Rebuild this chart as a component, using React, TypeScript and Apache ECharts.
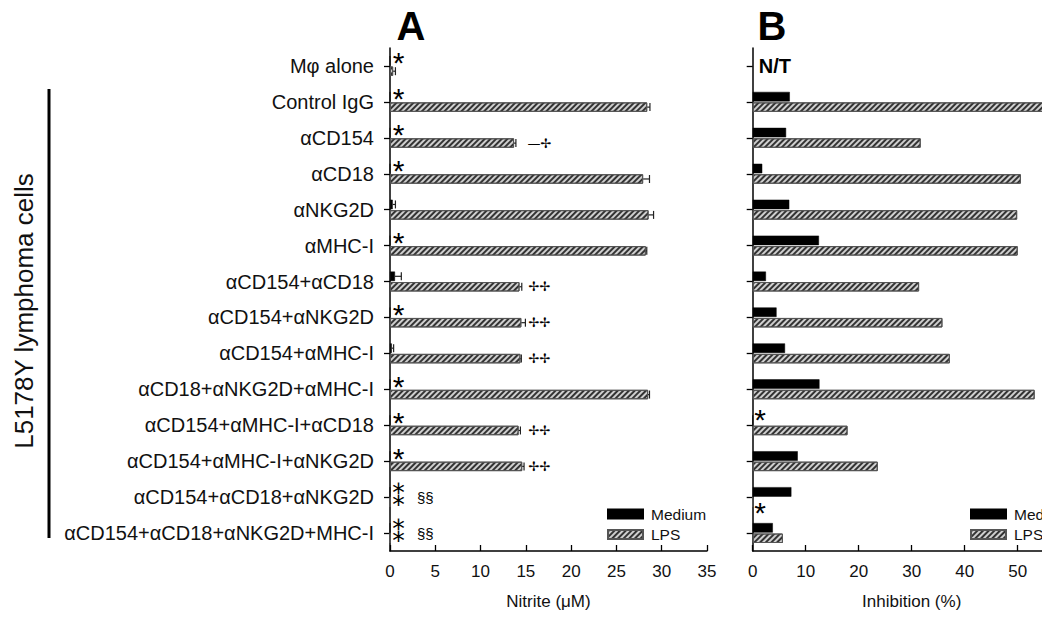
import React, { useEffect, useRef } from "react";
import * as echarts from "echarts";

const categories = [
  "Mφ alone",
  "Control IgG",
  "αCD154",
  "αCD18",
  "αNKG2D",
  "αMHC-I",
  "αCD154+αCD18",
  "αCD154+αNKG2D",
  "αCD154+αMHC-I",
  "αCD18+αNKG2D+αMHC-I",
  "αCD154+αMHC-I+αCD18",
  "αCD154+αMHC-I+αNKG2D",
  "αCD154+αCD18+αNKG2D",
  "αCD154+αCD18+αNKG2D+MHC-I",
];

// Panel A: nitrite (µM)
const nitriteMedium = [0, 0, 0, 0, 0.3, 0, 0.55, 0, 0.2, 0, 0, 0, 0, 0];
const nitriteMediumErr = [0, 0, 0, 0, 0.3, 0, 0.7, 0, 0.2, 0, 0, 0, 0, 0];
const nitriteLPS = [0.35, 28.4, 13.7, 27.95, 28.55, 28.25, 14.3, 14.5, 14.4, 28.5, 14.2, 14.6, 0, 0];
const nitriteLPSErr = [0.25, 0.3, 0.2, 0.7, 0.55, 0.1, 0.25, 0.45, 0.1, 0.15, 0.2, 0.2, 0, 0];

// Panel B: inhibition (%)
const inhibMedium = [null, 7.0, 6.3, 1.8, 6.9, 12.5, 2.5, 4.5, 6.1, 12.6, 0, 8.5, 7.3, 3.8];
const inhibLPS = [null, 55.5, 31.7, 50.6, 49.9, 50.0, 31.4, 35.8, 37.2, 53.2, 17.9, 23.6, 0, 5.7];

// Annotations
const starMediumA = [1, 1, 1, 1, 0, 1, 0, 1, 0, 1, 1, 1, 1, 1];
const starLPSA = [0, 0, 0, 0, 0, 0, 0, 0, 0, 0, 0, 0, 1, 1];
const daggerA = ["", "", "—✢", "", "", "", "✢✢", "✢✢", "✢✢", "", "✢✢", "✢✢", "", ""];
const sectionA = ["", "", "", "", "", "", "", "", "", "", "", "", "§§", "§§"];
const starMediumB = [0, 0, 0, 0, 0, 0, 0, 0, 0, 0, 1, 0, 0, 0];
const starLPSB = [0, 0, 0, 0, 0, 0, 0, 0, 0, 0, 0, 0, 1, 0];
const notTestedB = ["N/T", "", "", "", "", "", "", "", "", "", "", "", "", ""];

const xTicksA = { min: 0, max: 35, interval: 5 };
const xTicksB = { min: 0, max: 60, interval: 10 };

const FONT = "'Liberation Sans', Arial, Helvetica, sans-serif";
const BAR_W = 9.5;
const BAR_GAP = 0.1;
const HALF = (BAR_W * (1 + BAR_GAP)) / 2;

type Marker = { x: number; c: number; dy: number; text: string; kind: string };

function buildMarkersA(): Marker[] {
  const m: Marker[] = [];
  categories.forEach((_, i) => {
    if (starMediumA[i] && starLPSA[i]) m.push({ x: 0.95, c: i, dy: 0, text: "⁑", kind: "star2" });
    else if (starMediumA[i]) m.push({ x: 0.95, c: i, dy: -3, text: "*", kind: "star" });
    else if (starLPSA[i]) m.push({ x: 0.95, c: i, dy: 8.7, text: "*", kind: "star" });
    if (daggerA[i]) m.push({ x: 16.5, c: i, dy: HALF, text: daggerA[i], kind: "dagger" });
    if (sectionA[i]) m.push({ x: 3.9, c: i, dy: 0, text: sectionA[i], kind: "section" });
  });
  return m;
}
function buildMarkersB(): Marker[] {
  const m: Marker[] = [];
  categories.forEach((_, i) => {
    if (starMediumB[i]) m.push({ x: 1.4, c: i, dy: -5.3, text: "*", kind: "star" });
    if (starLPSB[i]) m.push({ x: 1.4, c: i, dy: 15, text: "*", kind: "star" });
    if (notTestedB[i]) m.push({ x: 4.2, c: i, dy: 0, text: notTestedB[i], kind: "nt" });
  });
  return m;
}

function markerStyle(kind: string) {
  if (kind === "star") return { fontSize: 30, fontFamily: FONT, fontWeight: "normal" };
  if (kind === "star2") return { fontSize: 25, fontFamily: "'DejaVu Sans', sans-serif", fontWeight: "normal" };
  if (kind === "dagger") return { fontSize: 13, fontFamily: "'DejaVu Sans', sans-serif", fontWeight: "normal" };
  if (kind === "section") return { fontSize: 15, fontFamily: FONT, fontWeight: "normal" };
  return { fontSize: 20, fontFamily: FONT, fontWeight: "bold" };
}

function errData(vals: (number | null)[], errs: number[]) {
  const out: number[][] = [];
  vals.forEach((v, i) => {
    if (v != null && errs[i] > 0) out.push([v as number, i, errs[i]]);
  });
  return out;
}

function errSeries(name: string, axis: number, data: number[][], dy: number) {
  return {
    name: name + "-err",
    type: "custom",
    xAxisIndex: axis,
    yAxisIndex: axis,
    data,
    z: 5,
    silent: true,
    renderItem: (_p: any, api: any) => {
      const v = api.value(0);
      const c = api.value(1);
      const e = api.value(2);
      const a = api.coord([v, c]);
      const b = api.coord([v + e, c]);
      const y = a[1] + dy;
      const st = { stroke: "#222", lineWidth: 1.2 };
      return {
        type: "group",
        children: [
          { type: "line", shape: { x1: a[0], y1: y, x2: b[0], y2: y }, style: st },
          { type: "line", shape: { x1: b[0], y1: y - 4, x2: b[0], y2: y + 4 }, style: st },
        ],
      };
    },
  };
}

function markerSeries(axis: number, markers: Marker[]) {
  return {
    name: "markers" + axis,
    type: "custom",
    xAxisIndex: axis,
    yAxisIndex: axis,
    data: markers.map((m) => [m.x, m.c]),
    z: 6,
    silent: true,
    clip: false,
    renderItem: (p: any, api: any) => {
      const m = markers[p.dataIndex];
      const pt = api.coord([api.value(0), api.value(1)]);
      const s = markerStyle(m.kind);
      return {
        type: "text",
        x: pt[0],
        y: pt[1] + m.dy,
        style: {
          text: m.text,
          fill: "#000",
          align: "center",
          verticalAlign: "middle",
          font: `${s.fontWeight} ${s.fontSize}px ${s.fontFamily}`,
        },
      };
    },
  };
}

const hatch = {
  symbol: "rect",
  symbolSize: 1,
  color: "#333",
  backgroundColor: "#cfcfcf",
  dashArrayX: [1, 0],
  dashArrayY: [1.5, 1.6],
  rotation: -Math.PI / 4,
};

function valueAxis(idx: number, t: { min: number; max: number; interval: number }, name: string) {
  return {
    type: "value",
    gridIndex: idx,
    min: t.min,
    max: t.max,
    interval: t.interval,
    name,
    nameLocation: "middle",
    nameGap: 42,
    nameTextStyle: { fontSize: 17, fontFamily: FONT, color: "#111" },
    splitLine: { show: false },
    axisLine: { show: true, lineStyle: { color: "#000", width: 1.5 } },
    axisTick: { show: true, inside: true, length: 6, lineStyle: { color: "#000", width: 1.3 } },
    axisLabel: { margin: 12, fontSize: 17, fontFamily: FONT, color: "#111", showMaxLabel: idx === 0 },
  };
}

function catAxis(idx: number, showLabels: boolean) {
  return {
    type: "category",
    gridIndex: idx,
    data: categories,
    inverse: true,
    axisLine: { show: true, lineStyle: { color: "#000", width: 1.5 } },
    axisTick: { show: true, alignWithLabel: true, length: 6, lineStyle: { color: "#000", width: 1.3 } },
    axisLabel: { show: showLabels, margin: 16, fontSize: 20, fontFamily: FONT, color: "#111" },
  };
}

function legend(left: number) {
  return {
    data: ["Medium", "LPS"],
    orient: "vertical",
    left,
    top: 501,
    icon: "rect",
    itemWidth: 35,
    itemHeight: 9,
    itemGap: 4.5,
    selectedMode: false,
    textStyle: { fontSize: 15.5, fontFamily: FONT, color: "#111", padding: [0, 0, 0, 3] },
  };
}

export default function App() {
  const ref = useRef<HTMLDivElement>(null);
  useEffect(() => {
    if (!ref.current) return;
    const chart = echarts.init(ref.current, null, { renderer: "svg" });
    const barMedium = {
      type: "bar",
      name: "Medium",
      barWidth: BAR_W,
      barGap: `${BAR_GAP * 100}%`,
      itemStyle: { color: "#000", borderColor: "#000", borderWidth: 0.5 },
    };
    const barLPS = {
      type: "bar",
      name: "LPS",
      barWidth: BAR_W,
      barGap: `${BAR_GAP * 100}%`,
      itemStyle: { color: "#cfcfcf", borderColor: "#555", borderWidth: 1, decal: hatch },
    };
    chart.setOption({
      animation: false,
      backgroundColor: "#fff",
      textStyle: { fontFamily: FONT },
      grid: [
        { left: 390, top: 48, width: 317, height: 503, outerBoundsMode: "none", containLabel: false },
        { left: 752.7, top: 48, width: 318, height: 503, outerBoundsMode: "none", containLabel: false },
      ],
      xAxis: [valueAxis(0, xTicksA, "Nitrite (μM)"), valueAxis(1, xTicksB, "Inhibition (%)")],
      yAxis: [catAxis(0, true), catAxis(1, false)],
      legend: [legend(602), legend(965)],
      series: [
        { ...barMedium, xAxisIndex: 0, yAxisIndex: 0, data: nitriteMedium },
        { ...barLPS, xAxisIndex: 0, yAxisIndex: 0, data: nitriteLPS },
        { ...barMedium, xAxisIndex: 1, yAxisIndex: 1, data: inhibMedium },
        { ...barLPS, xAxisIndex: 1, yAxisIndex: 1, data: inhibLPS },
        errSeries("Medium", 0, errData(nitriteMedium, nitriteMediumErr), -HALF),
        errSeries("LPS", 0, errData(nitriteLPS, nitriteLPSErr), HALF),
        markerSeries(0, buildMarkersA()),
        markerSeries(1, buildMarkersB()),
      ],
      graphic: [
        {
          type: "text",
          x: 24,
          y: 311,
          rotation: Math.PI / 2,
          style: {
            text: "L5178Y lymphoma cells",
            font: `normal 26px ${FONT}`,
            fill: "#111",
            align: "center",
            verticalAlign: "middle",
          },
        },
        { type: "line", shape: { x1: 49, y1: 89, x2: 49, y2: 538 }, style: { stroke: "#000", lineWidth: 3 } },
        {
          type: "text",
          x: 411,
          y: 26,
          style: { text: "A", font: `bold 40px ${FONT}`, fill: "#000", align: "center", verticalAlign: "middle" },
        },
        {
          type: "text",
          x: 772,
          y: 26,
          style: { text: "B", font: `bold 40px ${FONT}`, fill: "#000", align: "center", verticalAlign: "middle" },
        },
        { type: "rect", z: 100, shape: { x: 1042, y: 0, width: 8, height: 617 }, style: { fill: "#fff" } },
      ],
    });
    return () => chart.dispose();
  }, []);
  return (
    <div
      ref={ref}
      style={{ position: "absolute", left: 0, top: 0, width: 1050, height: 617, background: "#fff" }}
    />
  );
}
